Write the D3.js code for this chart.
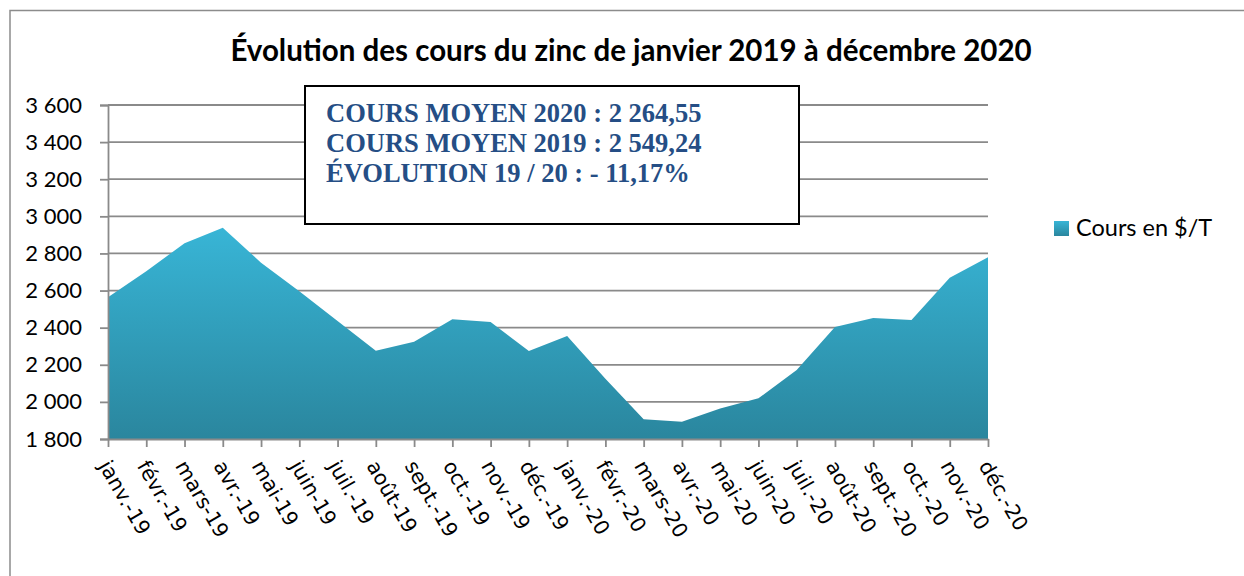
<!DOCTYPE html>
<html>
<head>
<meta charset="utf-8">
<script src="https://cdn.jsdelivr.net/npm/d3@7"></script>
<style>
  body { margin: 0; background: white; }
</style>
</head>
<body>
<div id="chart"></div>
<script>
const months = ['janv.-19','févr.-19','mars-19','avr.-19','mai-19','juin-19','juil.-19','août-19','sept.-19','oct.-19','nov.-19','déc.-19',
  'janv.-20','févr.-20','mars-20','avr.-20','mai-20','juin-20','juil.-20','août-20','sept.-20','oct.-20','nov.-20','déc.-20'];
const cours = [2564, 2704, 2855, 2939, 2750, 2596, 2436, 2276, 2324, 2445, 2430, 2274,
  2355, 2125, 1906, 1893, 1965, 2019, 2172, 2404, 2452, 2441, 2669, 2779];
const yTicks = [1800, 2000, 2200, 2400, 2600, 2800, 3000, 3200, 3400, 3600];
const infoLines = ['COURS MOYEN 2020 : 2 264,55', 'COURS MOYEN 2019 : 2 549,24', 'ÉVOLUTION 19 / 20 : - 11,17%'];
const title = 'Évolution des cours du zinc de janvier 2019 à décembre 2020';
const seriesName = 'Cours en $/T';

const width = 1244;
const height = 576;
const margin = {top: 105, bottom: 137, left: 108, right: 256};

const svg = d3.select('#chart')
.append('svg')
.attr('width', width)
.attr('height', height);

svg.append('rect')
.attr('width', width)
.attr('height', height)
.attr('fill', 'white');

// cadre du graphique
svg.append('path')
.attr('d', `M10,${height + 5} L10,10.5 L${width + 5},10.5`)
.attr('fill', 'none')
.attr('stroke', '#8c8c8c')
.attr('stroke-width', 1.5);

const grad = svg.append('defs')
.append('linearGradient')
.attr('id', 'zincGrad')
.attr('x1', 0).attr('y1', 0).attr('x2', 0).attr('y2', 1);
grad.append('stop').attr('offset', '0%').attr('stop-color', '#38b5d6');
grad.append('stop').attr('offset', '100%').attr('stop-color', '#2a869e');

const x = d3.scalePoint()
.domain(months)
.range([margin.left, width - margin.right]);

const y = d3.scaleLinear()
.domain([1800, 3600])
.range([height - margin.bottom, margin.top]);

// grille
svg.append('g')
.selectAll('line')
.data(yTicks)
.join('line')
.attr('x1', margin.left)
.attr('x2', width - margin.right)
.attr('y1', d => y(d))
.attr('y2', d => y(d))
.attr('stroke', '#8a8a8a')
.attr('stroke-width', 1.8);

const area = d3.area()
.x((d, i) => x(months[i]))
.y0(y(1800))
.y1(d => y(d));

svg.append('path')
.datum(cours)
.attr('d', area)
.attr('fill', 'url(#zincGrad)');

// axe Y
const yAxis = svg.append('g')
.attr('transform', `translate(${margin.left},0)`)
.call(d3.axisLeft(y).tickValues(yTicks).tickSize(8).tickPadding(18)
  .tickFormat(d => d3.format(',')(d).replace(',', ' ')));
yAxis.select('.domain').attr('stroke', '#8a8a8a').attr('stroke-width', 1.8);
yAxis.selectAll('.tick line').attr('stroke', '#8a8a8a').attr('stroke-width', 1.8);
yAxis.selectAll('.tick text')
.attr('font-family', 'Lato, sans-serif')
.attr('font-size', '22px')
.attr('fill', 'black');

// axe X
const xAxis = svg.append('g')
.attr('transform', `translate(0,${y(1800)})`)
.call(d3.axisBottom(x).tickSize(8).tickSizeOuter(0));
xAxis.select('.domain').attr('stroke', '#8a8a8a').attr('stroke-width', 1.8);
xAxis.selectAll('.tick line').attr('stroke', '#8a8a8a').attr('stroke-width', 1.8);
xAxis.selectAll('.tick text')
.attr('font-family', '"DejaVu Sans", sans-serif')
.attr('font-size', '20.5px')
.attr('fill', 'black')
.attr('text-anchor', 'start')
.attr('y', 0)
.attr('dy', '0.75em')
.attr('transform', 'translate(3,19) rotate(60)');

// titre
svg.append('text')
.attr('x', 631)
.attr('y', 61)
.attr('text-anchor', 'middle')
.attr('font-family', 'Lato, sans-serif')
.attr('font-weight', 'bold')
.attr('font-size', '29.5px')
.attr('fill', 'black')
.text(title);

// encadré
svg.append('rect')
.attr('x', 305)
.attr('y', 86)
.attr('width', 494)
.attr('height', 138)
.attr('fill', 'white')
.attr('stroke', 'black')
.attr('stroke-width', 2);

svg.append('g')
.selectAll('text')
.data(infoLines)
.join('text')
.attr('x', 326)
.attr('y', (d, i) => 122 + i * 30)
.attr('font-family', '"Liberation Serif", serif')
.attr('font-weight', 'bold')
.attr('font-size', '26.5px')
.attr('fill', '#254e85')
.text(d => d);

// légende
svg.append('rect')
.attr('x', 1054)
.attr('y', 221)
.attr('width', 15)
.attr('height', 15)
.attr('fill', 'url(#zincGrad)');
svg.append('text')
.attr('x', 1076)
.attr('y', 236)
.attr('font-family', 'Lato, sans-serif')
.attr('font-size', '23.5px')
.attr('fill', 'black')
.text(seriesName);
</script>
</body>
</html>
